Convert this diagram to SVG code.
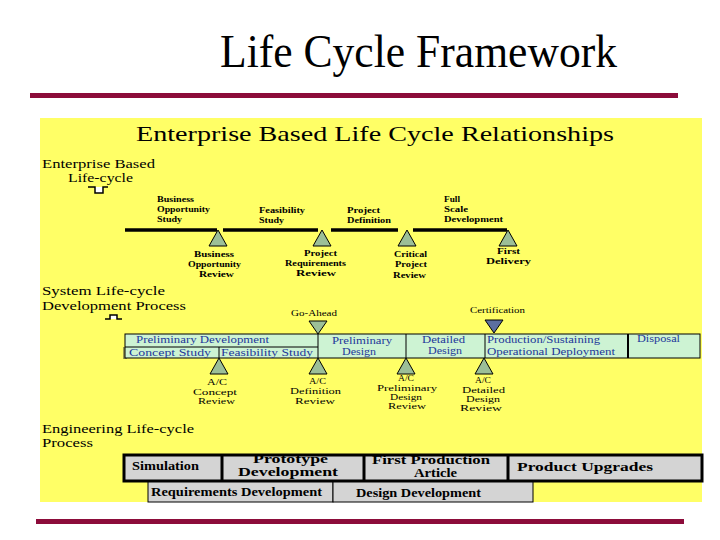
<svg xmlns="http://www.w3.org/2000/svg" width="720" height="540" viewBox="0 0 720 540">
<style>
text{font-family:"Liberation Serif","Times New Roman",serif;fill:#000}
.t{font-size:46px}
.sub{font-size:22px}
.sec{font-size:13.5px}
.el{font-size:9px;font-weight:bold}
.sl{font-size:9px}
.bar{font-size:9.5px;fill:#22379a}
.bb{font-size:12px;font-weight:bold}
.tri{fill:#9cbf98;stroke:#000;stroke-width:1}
.cert{fill:#5c6fa0;stroke:#000;stroke-width:1}
.ln{stroke:#000;stroke-width:3.5;fill:none}
.cell{fill:#cdf3d3;stroke:#000;stroke-width:1}
.gray{fill:#d4d4d4}
.thick{fill:none;stroke:#000;stroke-width:3}
.thin{fill:#d4d4d4;stroke:#000;stroke-width:1}
</style>

<!-- Title -->
<text class="t" x="220" y="67" textLength="397" lengthAdjust="spacingAndGlyphs">Life Cycle Framework</text>
<rect x="30" y="93" width="648" height="5" fill="#8c0c3a"/>
<rect x="36" y="519" width="648" height="5" fill="#8c0c3a"/>

<!-- Panel -->
<rect x="40" y="118" width="662" height="384" fill="#ffff66"/>
<text class="sub" x="136" y="141" textLength="478" lengthAdjust="spacingAndGlyphs">Enterprise Based Life Cycle Relationships</text>

<!-- Section labels -->
<g id="sec-enterprise">
<text class="sec" x="42" y="168" textLength="113" lengthAdjust="spacingAndGlyphs">Enterprise Based</text>
<text class="sec" x="68" y="182" textLength="65" lengthAdjust="spacingAndGlyphs">Life-cycle</text>
<path d="M88,187 H95 V193 H103 V187 H108" fill="#fff" stroke="#000" stroke-width="1.5"/>
</g>
<g id="sec-system">
<text class="sec" x="42" y="295" textLength="123" lengthAdjust="spacingAndGlyphs">System Life-cycle</text>
<text class="sec" x="42" y="310" textLength="144" lengthAdjust="spacingAndGlyphs">Development Process</text>
<path d="M105,319 H110 V315 H117 V319 H122" fill="#fff" stroke="#000" stroke-width="1.5"/>
</g>
<g id="sec-engineering">
<text class="sec" x="42" y="433" textLength="152" lengthAdjust="spacingAndGlyphs">Engineering Life-cycle</text>
<text class="sec" x="42" y="447" textLength="51" lengthAdjust="spacingAndGlyphs">Process</text>
</g>

<!-- Connectors: enterprise timeline -->
<g id="connectors">
<line class="ln" x1="125" y1="230" x2="217" y2="230"/>
<line class="ln" x1="223" y1="230" x2="318" y2="230"/>
<line class="ln" x1="331" y1="230" x2="398" y2="230"/>
<line class="ln" x1="413" y1="230" x2="507" y2="230"/>
</g>

<!-- Enterprise phase labels -->
<g id="phase-bos">
<text class="el" x="157" y="202" textLength="37" lengthAdjust="spacingAndGlyphs">Business</text>
<text class="el" x="157" y="212" textLength="53" lengthAdjust="spacingAndGlyphs">Opportunity</text>
<text class="el" x="157" y="222" textLength="25" lengthAdjust="spacingAndGlyphs">Study</text>
</g>
<g id="phase-fs">
<text class="el" x="259" y="213" textLength="46" lengthAdjust="spacingAndGlyphs">Feasibility</text>
<text class="el" x="259" y="223" textLength="25" lengthAdjust="spacingAndGlyphs">Study</text>
</g>
<g id="phase-pd">
<text class="el" x="347" y="213" textLength="33" lengthAdjust="spacingAndGlyphs">Project</text>
<text class="el" x="347" y="223" textLength="44" lengthAdjust="spacingAndGlyphs">Definition</text>
</g>
<g id="phase-fsd">
<text class="el" x="444" y="202" textLength="16" lengthAdjust="spacingAndGlyphs">Full</text>
<text class="el" x="444" y="212" textLength="24" lengthAdjust="spacingAndGlyphs">Scale</text>
<text class="el" x="444" y="222" textLength="59" lengthAdjust="spacingAndGlyphs">Development</text>
</g>

<!-- Enterprise milestones -->
<g id="ms-bor">
<polygon class="tri" points="218,230 209,246 227,246"/>
<text class="el" x="194" y="257" textLength="40" lengthAdjust="spacingAndGlyphs">Business</text>
<text class="el" x="188" y="267" textLength="53" lengthAdjust="spacingAndGlyphs">Opportunity</text>
<text class="el" x="199" y="277" textLength="35" lengthAdjust="spacingAndGlyphs">Review</text>
</g>
<g id="ms-prr">
<polygon class="tri" points="322,230 313,246 331,246"/>
<text class="el" x="304" y="256" textLength="33" lengthAdjust="spacingAndGlyphs">Project</text>
<text class="el" x="285" y="266" textLength="61" lengthAdjust="spacingAndGlyphs">Requirements</text>
<text class="el" x="296" y="276" textLength="40" lengthAdjust="spacingAndGlyphs">Review</text>
</g>
<g id="ms-cpr">
<polygon class="tri" points="407,230 398,246 416,246"/>
<text class="el" x="394" y="257" textLength="33" lengthAdjust="spacingAndGlyphs">Critical</text>
<text class="el" x="395" y="267" textLength="32" lengthAdjust="spacingAndGlyphs">Project</text>
<text class="el" x="393" y="278" textLength="33" lengthAdjust="spacingAndGlyphs">Review</text>
</g>
<g id="ms-fd">
<polygon class="tri" points="508,230 499,246 517,246"/>
<text class="el" x="497" y="254" textLength="23" lengthAdjust="spacingAndGlyphs">First</text>
<text class="el" x="486" y="264" textLength="45" lengthAdjust="spacingAndGlyphs">Delivery</text>
</g>

<!-- System bar -->
<g id="system-bar">
<rect x="123" y="347" width="4" height="12" fill="#9a9a50"/>
<rect class="cell" x="125" y="334" width="575" height="24"/>
<line x1="125" y1="347" x2="318" y2="347" stroke="#000" stroke-width="1"/>
<line x1="219" y1="347" x2="219" y2="358" stroke="#000" stroke-width="1"/>
<line x1="318" y1="334" x2="318" y2="358" stroke="#000" stroke-width="1"/>
<line x1="406" y1="334" x2="406" y2="358" stroke="#000" stroke-width="1"/>
<line x1="485" y1="334" x2="485" y2="358" stroke="#000" stroke-width="1"/>
<line x1="628" y1="334" x2="628" y2="358" stroke="#000" stroke-width="2"/>
<text class="bar" x="136" y="343" textLength="133" lengthAdjust="spacingAndGlyphs">Preliminary Development</text>
<text class="bar" x="129" y="356" textLength="82" lengthAdjust="spacingAndGlyphs">Concept  Study</text>
<text class="bar" x="221" y="356" textLength="92" lengthAdjust="spacingAndGlyphs">Feasibility  Study</text>
<text class="bar" x="332" y="344" textLength="60" lengthAdjust="spacingAndGlyphs">Preliminary</text>
<text class="bar" x="342" y="355" textLength="34" lengthAdjust="spacingAndGlyphs">Design</text>
<text class="bar" x="422" y="343" textLength="43" lengthAdjust="spacingAndGlyphs">Detailed</text>
<text class="bar" x="428" y="354" textLength="34" lengthAdjust="spacingAndGlyphs">Design</text>
<text class="bar" x="487" y="343" textLength="113" lengthAdjust="spacingAndGlyphs">Production/Sustaining</text>
<text class="bar" x="487" y="355" textLength="128" lengthAdjust="spacingAndGlyphs">Operational Deployment</text>
<text class="bar" x="637" y="342" textLength="43" lengthAdjust="spacingAndGlyphs">Disposal</text>
</g>

<!-- System milestones -->
<g id="ms-goahead">
<text class="sl" x="291" y="316" textLength="46" lengthAdjust="spacingAndGlyphs">Go-Ahead</text>
<polygon class="tri" points="309,321 327,321 318,334"/>
</g>
<g id="ms-cert">
<text class="sl" x="470" y="313" textLength="55" lengthAdjust="spacingAndGlyphs">Certification</text>
<polygon class="cert" points="485,320 503,320 494,333"/>
</g>
<g id="ms-acr">
<polygon class="tri" points="219,358 210,374 228,374"/>
<text class="sl" x="207" y="385" textLength="20" lengthAdjust="spacingAndGlyphs">A/C</text>
<text class="sl" x="193" y="395" textLength="44" lengthAdjust="spacingAndGlyphs">Concept</text>
<text class="sl" x="198" y="404" textLength="37" lengthAdjust="spacingAndGlyphs">Review</text>
</g>
<g id="ms-adr">
<polygon class="tri" points="318,358 309,374 327,374"/>
<text class="sl" x="309" y="384" textLength="17" lengthAdjust="spacingAndGlyphs">A/C</text>
<text class="sl" x="290" y="394" textLength="51" lengthAdjust="spacingAndGlyphs">Definition</text>
<text class="sl" x="295" y="404" textLength="40" lengthAdjust="spacingAndGlyphs">Review</text>
</g>
<g id="ms-apdr">
<polygon class="tri" points="406,358 397,374 415,374"/>
<text class="sl" x="398" y="381" textLength="16" lengthAdjust="spacingAndGlyphs">A/C</text>
<text class="sl" x="377" y="391" textLength="60" lengthAdjust="spacingAndGlyphs">Preliminary</text>
<text class="sl" x="390" y="400" textLength="32" lengthAdjust="spacingAndGlyphs">Design</text>
<text class="sl" x="388" y="409" textLength="38" lengthAdjust="spacingAndGlyphs">Review</text>
</g>
<g id="ms-addr">
<polygon class="tri" points="484,358 475,374 493,374"/>
<text class="sl" x="475" y="383" textLength="16" lengthAdjust="spacingAndGlyphs">A/C</text>
<text class="sl" x="462" y="393" textLength="43" lengthAdjust="spacingAndGlyphs">Detailed</text>
<text class="sl" x="466" y="402" textLength="34" lengthAdjust="spacingAndGlyphs">Design</text>
<text class="sl" x="460" y="411" textLength="42" lengthAdjust="spacingAndGlyphs">Review</text>
</g>

<!-- Engineering bars -->
<g id="eng-row1">
<rect class="gray" x="124" y="455" width="578" height="26"/>
<text class="bb" x="132" y="470" textLength="67" lengthAdjust="spacingAndGlyphs">Simulation</text>
<text class="bb" x="253" y="463" textLength="75" lengthAdjust="spacingAndGlyphs">Prototype</text>
<text class="bb" x="238" y="476" textLength="100" lengthAdjust="spacingAndGlyphs">Development</text>
<text class="bb" x="372" y="464" textLength="118" lengthAdjust="spacingAndGlyphs">First Production</text>
<text class="bb" x="414" y="477" textLength="43" lengthAdjust="spacingAndGlyphs">Article</text>
<text class="bb" x="517" y="471" textLength="136" lengthAdjust="spacingAndGlyphs">Product Upgrades</text>
<rect class="thick" x="124" y="455" width="578" height="26"/>
<line x1="222" y1="455" x2="222" y2="481" stroke="#000" stroke-width="3"/>
<line x1="364" y1="455" x2="364" y2="481" stroke="#000" stroke-width="3"/>
<line x1="508" y1="455" x2="508" y2="481" stroke="#000" stroke-width="3"/>
</g>
<g id="eng-row2">
<rect class="thin" x="148" y="482" width="185" height="20"/>
<rect class="thin" x="333" y="482" width="200" height="20"/>
<text class="bb" x="151" y="496" textLength="171" lengthAdjust="spacingAndGlyphs">Requirements Development</text>
<text class="bb" x="356" y="497" textLength="125" lengthAdjust="spacingAndGlyphs">Design Development</text>
</g>
</svg>
